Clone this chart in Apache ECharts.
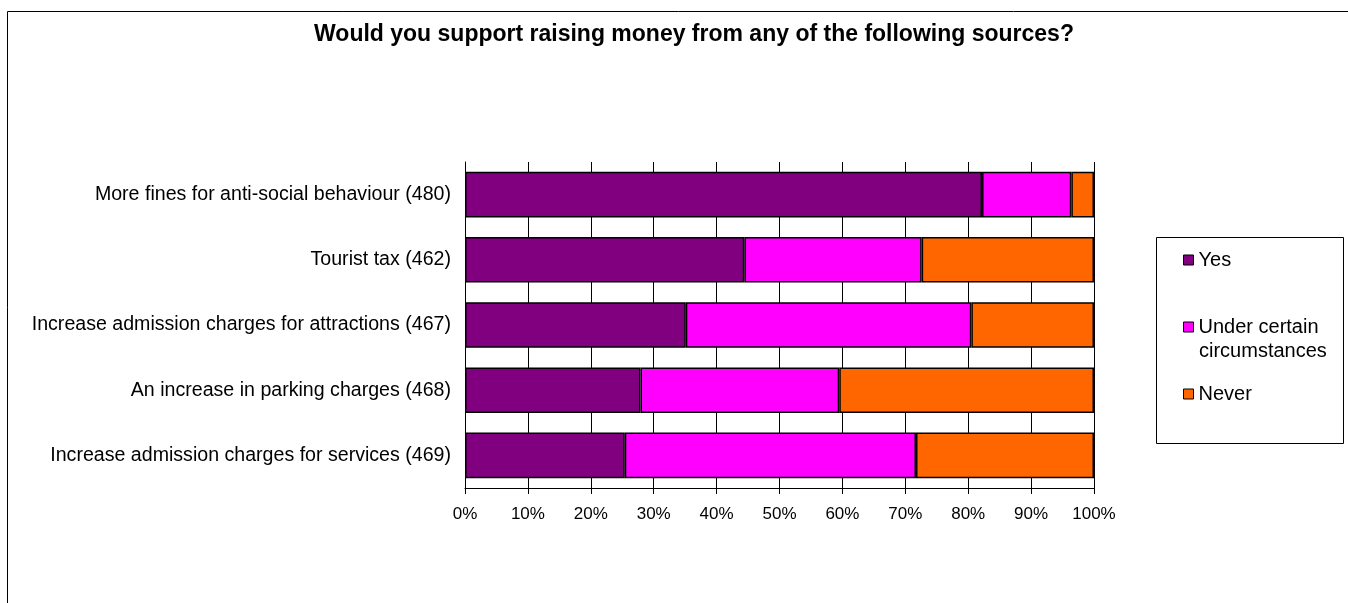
<!DOCTYPE html>
<html><head><meta charset="utf-8">
<script src="https://cdn.jsdelivr.net/npm/echarts@6/dist/echarts.min.js"></script>
<style>html,body{margin:0;padding:0;background:#fff}#c{width:1348px;height:603px}</style>
</head><body><div id="c"></div>
<script>
const titleText = 'Would you support raising money from any of the following sources?';
const categories = [
  'More fines for anti-social behaviour (480)',
  'Tourist tax (462)',
  'Increase admission charges for attractions (467)',
  'An increase in parking charges (468)',
  'Increase admission charges for services (469)'
];
const seriesNames = ['Yes', 'Under certain circumstances', 'Never'];
const yesValues = [82.2, 44.4, 35.1, 27.9, 25.4];
const underValues = [14.2, 28.2, 45.4, 31.6, 46.3];
const neverValues = [3.6, 27.4, 19.5, 40.5, 28.3];
const colors = ['#800080', '#FF00FF', '#FF6600'];

const font = '"Liberation Sans", Arial, sans-serif';
const chart = echarts.init(document.getElementById('c'), null, {renderer: 'canvas'});
const mk = (name, data, i) => ({
  name, type: 'bar', stack: 'total', data, barWidth: '70%',
  itemStyle: {color: colors[i], borderColor: '#000', borderWidth: 1.5},
  emphasis: {disabled: true}
});
chart.setOption({
  animation: false,
  textStyle: {fontFamily: font},
  title: {
    text: titleText, left: 689, textAlign: 'center', top: 18,
    textStyle: {fontFamily: font, fontSize: 23, fontWeight: 'bold', color: '#000'}
  },
  graphic: [
    {type: 'rect', shape: {x: 7.5, y: 11.5, width: 1400, height: 700}, style: {fill: 'none', stroke: '#000', lineWidth: 1}, silent: true},
    {type: 'rect', shape: {x: 1156.5, y: 237.5, width: 187, height: 206}, style: {fill: 'none', stroke: '#000', lineWidth: 1}, silent: true},
    {type: 'text', x: 1199, y: 351, silent: true,
     style: {text: 'circumstances', fontFamily: font, fontSize: 20, fill: '#000', verticalAlign: 'middle'}}
  ],
  legend: {
    orient: 'vertical', left: 1183, top: 248, padding: 0, itemWidth: 10, itemHeight: 10, itemGap: 43,
    icon: 'rect',
    data: seriesNames,
    formatter: n => n === 'Under certain circumstances' ? 'Under certain' : n,
    itemStyle: {borderColor: '#000', borderWidth: 1},
    textStyle: {fontFamily: font, fontSize: 20, color: '#000', lineHeight: 24, padding: [0, 0, 0, 0]}
  },
  grid: {left: 465, right: 254, top: 162, height: 326, containLabel: false},
  xAxis: {
    type: 'value', min: 0, max: 100, interval: 10,
    axisLabel: {formatter: '{value}%', fontFamily: font, fontSize: 17, color: '#000', margin: 18},
    axisLine: {show: true, lineStyle: {color: '#000'}},
    axisTick: {show: true, length: 6, lineStyle: {color: '#000'}},
    splitLine: {show: true, lineStyle: {color: '#000', width: 1}}
  },
  yAxis: {
    type: 'category', data: categories, inverse: true,
    axisLabel: {fontFamily: font, fontSize: 19.6, color: '#000', margin: 14},
    axisLine: {show: true, lineStyle: {color: '#000'}},
    axisTick: {show: false}
  },
  series: [mk(seriesNames[0], yesValues, 0), mk(seriesNames[1], underValues, 1), mk(seriesNames[2], neverValues, 2)]
});
</script></body></html>
